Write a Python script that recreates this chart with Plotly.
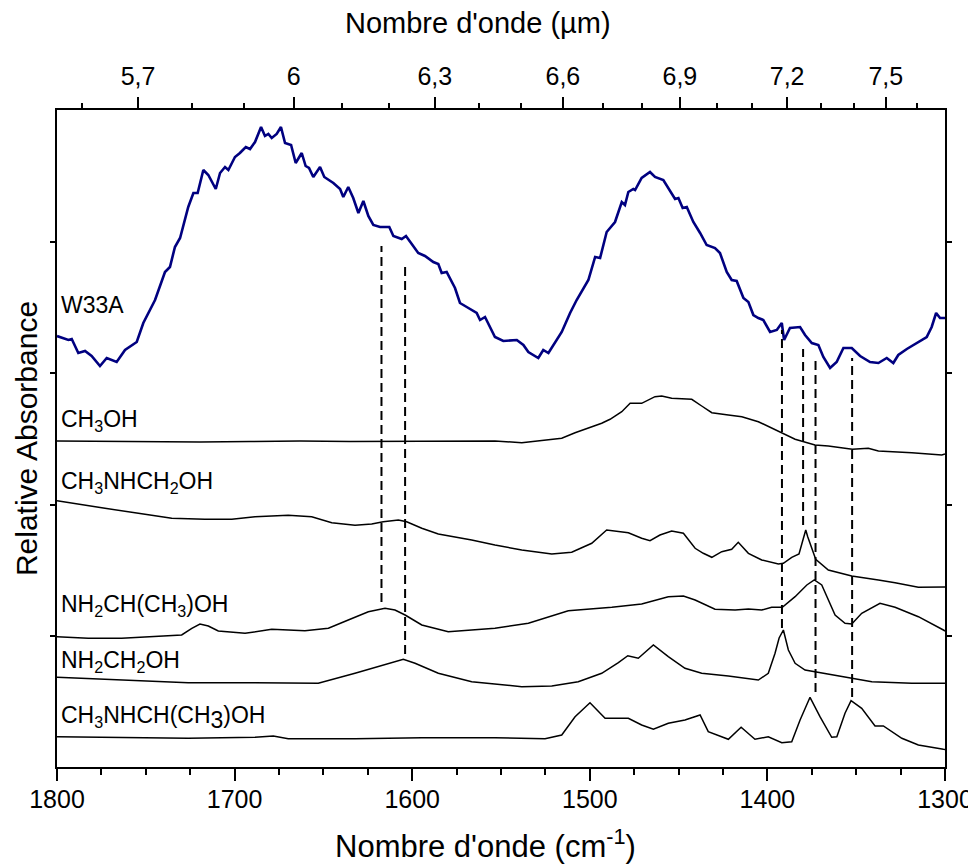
import plotly.graph_objects as go

# Spectra: wavenumber (cm-1) and stacked relative absorbance (offset units)
W33A_WN = [1800, 1793.6, 1791.7, 1788.0, 1784.2, 1780.5, 1775.8, 1772.0, 1766.4, 1761.7,
           1755.1, 1751.4, 1744.8, 1739.2, 1736.4, 1733.6, 1730.7, 1726.1, 1723.2, 1720.8,
           1717.6, 1714.8, 1710.6, 1708.2, 1705.4, 1703.5, 1699.8, 1697.0, 1693.7, 1691.3,
           1688.5, 1685.1, 1682.9, 1681.0, 1679.1, 1676.3, 1673.9, 1671.6, 1668.2, 1665.6,
           1662.2, 1660.0, 1658.1, 1655.7, 1651.9, 1649.5, 1644.4, 1640.6, 1638.8, 1636.0,
           1633.2, 1630.3, 1627.5, 1624.7, 1621.9, 1618.1, 1612.9, 1610.6, 1605.9, 1603.5,
           1596.6, 1592.8, 1588.1, 1585.3, 1583.4, 1580.6, 1575.9, 1573.1, 1569.3, 1563.7,
           1561.8, 1559.0, 1553.4, 1548.7, 1541.1, 1537.4, 1534.6, 1529.0, 1526.2, 1523.3,
           1515.8, 1511.1, 1507.4, 1500.8, 1497.0, 1494.2, 1490.5, 1485.8, 1482.0, 1480.2,
           1478.3, 1475.5, 1474.5, 1470.8, 1466.1, 1463.3, 1458.6, 1455.8, 1452.0, 1450.1,
           1447.7, 1445.4, 1441.7, 1437.9, 1434.2, 1429.5, 1426.7, 1422.9, 1420.1, 1417.3,
           1413.5, 1410.7, 1407.9, 1405.1, 1402.3, 1398.5, 1394.7, 1391.9, 1390.6, 1387.3,
           1381.6, 1378.8, 1375.0, 1371.3, 1368.5, 1364.7, 1361.0, 1357.2, 1352.5, 1347.8,
           1342.2, 1337.5, 1332.8, 1329.1, 1326.3, 1321.5, 1315.9, 1310.3, 1307.5, 1305.0,
           1302.8, 1300]
W33A_ABS = [4.31, 4.27, 4.28, 4.14, 4.16, 4.11, 4.01, 4.09, 4.05, 4.17,
            4.25, 4.44, 4.67, 4.95, 5.00, 5.20, 5.29, 5.60, 5.74, 5.74,
            5.97, 5.92, 5.78, 5.94, 6.00, 5.97, 6.10, 6.14, 6.20, 6.18,
            6.25, 6.40, 6.31, 6.33, 6.29, 6.33, 6.40, 6.24, 6.22, 6.04,
            6.14, 6.01, 5.99, 5.90, 6.00, 5.90, 5.84, 5.78, 5.70, 5.80,
            5.69, 5.54, 5.66, 5.51, 5.42, 5.40, 5.40, 5.31, 5.28, 5.31,
            5.14, 5.11, 5.05, 5.03, 4.94, 4.95, 4.79, 4.64, 4.60, 4.54,
            4.47, 4.50, 4.30, 4.26, 4.27, 4.22, 4.15, 4.09, 4.17, 4.14,
            4.35, 4.54, 4.67, 4.87, 5.10, 5.09, 5.35, 5.45, 5.65, 5.62,
            5.75, 5.78, 5.77, 5.89, 5.95, 5.90, 5.87, 5.79, 5.68, 5.69,
            5.59, 5.60, 5.45, 5.34, 5.22, 5.19, 5.14, 4.95, 4.87, 4.86,
            4.69, 4.65, 4.52, 4.49, 4.47, 4.35, 4.37, 4.44, 4.27, 4.39,
            4.40, 4.32, 4.24, 4.22, 4.10, 3.99, 4.05, 4.19, 4.19, 4.11,
            4.05, 4.04, 4.09, 4.04, 4.12, 4.18, 4.24, 4.30, 4.40, 4.54,
            4.49, 4.49]

CH3OH_WN = [1800, 1775.8, 1747.6, 1719.5, 1691.3, 1663.2, 1635.0, 1606.9, 1578.7, 1553.4,
            1538.3, 1525.2, 1515.8, 1508.3, 1493.3, 1488.6, 1482.0, 1477.3, 1470.8, 1463.3,
            1459.5, 1453.9, 1442.6, 1437.0, 1431.3, 1422.0, 1414.4, 1405.1, 1397.6, 1391.6,
            1384.4, 1373.2, 1365.7, 1352.2, 1343.2, 1337.5, 1318.7, 1301.8, 1300]
CH3OH_ABS = [3.26, 3.255, 3.25, 3.25, 3.255, 3.26, 3.255, 3.255, 3.26, 3.26,
             3.243, 3.27, 3.287, 3.343, 3.437, 3.477, 3.553, 3.637, 3.637, 3.703,
             3.71, 3.687, 3.677, 3.61, 3.543, 3.52, 3.503, 3.453, 3.387, 3.337,
             3.277, 3.22, 3.21, 3.177, 3.187, 3.16, 3.143, 3.12, 3.13]

MAM_WN = [1800, 1789.9, 1773.0, 1754.2, 1735.4, 1716.7, 1701.6, 1688.5, 1669.8, 1656.6,
          1645.3, 1632.2, 1622.8, 1616.3, 1607.8, 1603.1, 1594.6, 1585.3, 1566.5, 1553.4,
          1538.3, 1521.4, 1510.2, 1498.9, 1490.5, 1478.3, 1470.8, 1466.1, 1460.5, 1453.9,
          1447.3, 1440.7, 1436.1, 1431.3, 1425.7, 1420.1, 1416.4, 1410.7, 1403.2, 1393.8,
          1391.0, 1386.3, 1382.2, 1380.0, 1378.4, 1377.3, 1376.0, 1372.8, 1365.7, 1352.5,
          1337.5, 1328.1, 1315.0, 1300.9, 1300]
MAM_ABS = [2.663, 2.637, 2.587, 2.537, 2.487, 2.477, 2.477, 2.503, 2.517, 2.503,
           2.443, 2.417, 2.43, 2.453, 2.47, 2.453, 2.387, 2.33, 2.27, 2.22,
           2.17, 2.13, 2.147, 2.237, 2.37, 2.343, 2.287, 2.263, 2.32, 2.36,
           2.337, 2.187, 2.137, 2.097, 2.153, 2.177, 2.247, 2.137, 2.07, 2.03,
           2.037, 2.097, 2.13, 2.27, 2.37, 2.303, 2.237, 2.077, 1.97, 1.91,
           1.87, 1.843, 1.797, 1.803, 1.80]

AE_WN = [1800, 1782.4, 1763.6, 1744.8, 1729.8, 1724.1, 1719.5, 1714.8, 1709.2, 1694.1,
         1679.1, 1660.4, 1647.2, 1636.0, 1624.7, 1615.3, 1609.7, 1604.0, 1594.6, 1579.7,
         1566.5, 1553.4, 1534.6, 1512.1, 1487.6, 1470.8, 1455.8, 1447.3, 1440.7, 1429.5,
         1418.2, 1410.7, 1403.2, 1397.6, 1391.6, 1384.4, 1377.8, 1373.6, 1369.4, 1365.7,
         1361.9, 1356.3, 1352.5, 1346.9, 1336.6, 1328.1, 1315.0, 1300.9, 1300]
AE_ABS = [1.303, 1.287, 1.287, 1.303, 1.32, 1.387, 1.43, 1.41, 1.36, 1.337,
          1.377, 1.363, 1.387, 1.47, 1.553, 1.587, 1.57, 1.52, 1.42, 1.353,
          1.37, 1.387, 1.437, 1.563, 1.597, 1.63, 1.703, 1.71, 1.67, 1.577,
          1.57, 1.58, 1.57, 1.597, 1.597, 1.703, 1.82, 1.87, 1.82, 1.67,
          1.52, 1.437, 1.43, 1.537, 1.637, 1.597, 1.503, 1.37, 1.36]

AM_WN = [1800, 1763.6, 1726.1, 1688.5, 1652.9, 1632.2, 1613.4, 1605.0, 1598.4, 1585.3,
         1566.5, 1547.7, 1538.3, 1521.4, 1506.5, 1493.3, 1483.9, 1478.6, 1472.7, 1464.2,
         1455.8, 1446.4, 1437.0, 1422.0, 1405.1, 1399.5, 1395.7, 1393.4, 1391.0, 1388.2,
         1384.4, 1378.8, 1367.5, 1352.5, 1341.2, 1318.7, 1300.9, 1300]
AM_ABS = [0.897, 0.87, 0.843, 0.843, 0.837, 0.937, 1.037, 1.077, 1.037, 0.937,
          0.853, 0.82, 0.803, 0.81, 0.853, 0.937, 1.043, 1.113, 1.087, 1.22,
          1.103, 0.987, 0.937, 0.91, 0.87, 0.937, 1.137, 1.29, 1.37, 1.17,
          1.037, 0.97, 0.937, 0.887, 0.853, 0.837, 0.837, 0.837]

MAE_WN = [1800, 1763.6, 1726.1, 1688.5, 1678.2, 1669.8, 1632.2, 1594.6, 1553.4, 1525.2,
          1515.8, 1508.3, 1499.9, 1491.4, 1478.3, 1470.8, 1464.2, 1455.8, 1446.4, 1437.9,
          1433.3, 1422.0, 1414.8, 1407.0, 1399.5, 1391.9, 1386.3, 1381.6, 1376.0, 1370.4,
          1363.8, 1360.9, 1356.3, 1352.9, 1346.9, 1339.4, 1334.7, 1324.3, 1315.0, 1300.9,
          1300]
MAE_ABS = [0.303, 0.297, 0.287, 0.297, 0.31, 0.283, 0.283, 0.293, 0.293, 0.283,
           0.32, 0.503, 0.643, 0.487, 0.487, 0.42, 0.377, 0.437, 0.47, 0.52,
           0.353, 0.277, 0.397, 0.277, 0.303, 0.243, 0.253, 0.47, 0.697, 0.503,
           0.297, 0.303, 0.537, 0.663, 0.587, 0.41, 0.41, 0.287, 0.22, 0.177,
           0.175]

# Dashed guide lines linking W33A features to lab bands
GUIDE_WN = [1617.3, 1604.0, 1391.8, 1379.9, 1372.9, 1352.3]
GUIDE_LOW = [1.65, 1.13, 1.39, 2.42, 0.75, 0.70]
GUIDE_HIGH = [5.21, 5.02, 4.37, 4.18, 4.07, 4.09]

LABELS = ["W33A", "CH<sub>3</sub>OH", "CH<sub>3</sub>NHCH<sub>2</sub>OH",
          "NH<sub>2</sub>CH(CH<sub>3</sub>)OH", "NH<sub>2</sub>CH<sub>2</sub>OH",
          "CH<sub>3</sub>NHCH(CH<sub><span style='font-size:23px'>3</span></sub>)OH"]
LABEL_Y = [4.62, 3.465, 2.845, 1.615, 1.053, 0.495]

WN_TICKS = [1800, 1700, 1600, 1500, 1400, 1300]
UM_TICKS = [5.7, 6.0, 6.3, 6.6, 6.9, 7.2, 7.5]
UM_TICK_TEXT = ["5,7", "6", "6,3", "6,6", "6,9", "7,2", "7,5"]
UM_MINOR = [5.6, 5.8, 5.9, 6.1, 6.2, 6.4, 6.5, 6.7, 6.8, 7.0, 7.1, 7.3, 7.4, 7.6]
Y_TICKS = [1.31, 2.62, 3.94, 5.25]

FONT = "Liberation Sans, Arial, sans-serif"

fig = go.Figure()

spectra = [
    (W33A_WN, W33A_ABS, "#000080", 2.6),
    (CH3OH_WN, CH3OH_ABS, "black", 1.5),
    (MAM_WN, MAM_ABS, "black", 1.5),
    (AE_WN, AE_ABS, "black", 1.5),
    (AM_WN, AM_ABS, "black", 1.5),
    (MAE_WN, MAE_ABS, "black", 1.5),
]
for wn, ab, color, width in spectra:
    fig.add_trace(go.Scatter(x=wn, y=ab, mode="lines", line=dict(color=color, width=width),
                             showlegend=False, hoverinfo="skip"))

for wn, lo, hi in zip(GUIDE_WN, GUIDE_LOW, GUIDE_HIGH):
    fig.add_trace(go.Scatter(x=[wn, wn], y=[lo, hi], mode="lines", xaxis="x2",
                             line=dict(color="black", width=2, dash="9px,5px"),
                             showlegend=False, hoverinfo="skip"))

for text, y in zip(LABELS, LABEL_Y):
    fig.add_annotation(x=1799, y=y, text=text, showarrow=False, xanchor="left", yanchor="middle",
                       font=dict(size=23, color="black", family=FONT))

# x titles sit a little left of centre in the original, so they are placed by hand
fig.add_annotation(x=0.474, y=1.132, xref="paper", yref="paper", text="Nombre d'onde (µm)",
                   showarrow=False, xanchor="center", yanchor="middle", font=dict(size=29))
fig.add_annotation(x=0.483, y=-0.1175, xref="paper", yref="paper",
                   text="Nombre d'onde (cm<sup>-1</sup>)",
                   showarrow=False, xanchor="center", yanchor="middle", font=dict(size=31))

axis_common = dict(showgrid=False, zeroline=False, linecolor="black", linewidth=2,
                   tickcolor="black", tickwidth=2, automargin=False)

# the page body adds an 8px offset, so the figure is drawn 8px smaller than the window
fig.update_layout(
    width=968,
    height=856,
    margin=dict(l=49, r=31, t=102, b=97),
    plot_bgcolor="white",
    paper_bgcolor="white",
    font=dict(family=FONT, color="black"),
    xaxis=dict(
        range=[1800, 1300], showline=True, mirror=True, ticks="outside", ticklen=12,
        tickvals=WN_TICKS, tickfont=dict(size=25), ticklabelstandoff=-3,
        minor=dict(dtick=25, ticks="outside", ticklen=6, tickwidth=2, tickcolor="black"),
        **axis_common,
    ),
    xaxis2=dict(
        range=[1800, 1300], overlaying="x", side="top", anchor="y", showline=False,
        ticks="outside", ticklen=12, tickvals=[10000 / u for u in UM_TICKS], ticktext=UM_TICK_TEXT,
        tickfont=dict(size=25), ticklabelstandoff=2,
        minor=dict(tickvals=[10000 / u for u in UM_MINOR], ticks="outside", ticklen=6,
                   tickwidth=2, tickcolor="black"),
        **axis_common,
    ),
    yaxis=dict(
        range=[0, 6.57], showline=True, mirror="ticks", ticks="outside", ticklen=5,
        tickvals=Y_TICKS, showticklabels=False,
        title=dict(text="Relative Absorbance", font=dict(size=30), standoff=4),
        **axis_common,
    ),
)

fig.write_html("out.html")
